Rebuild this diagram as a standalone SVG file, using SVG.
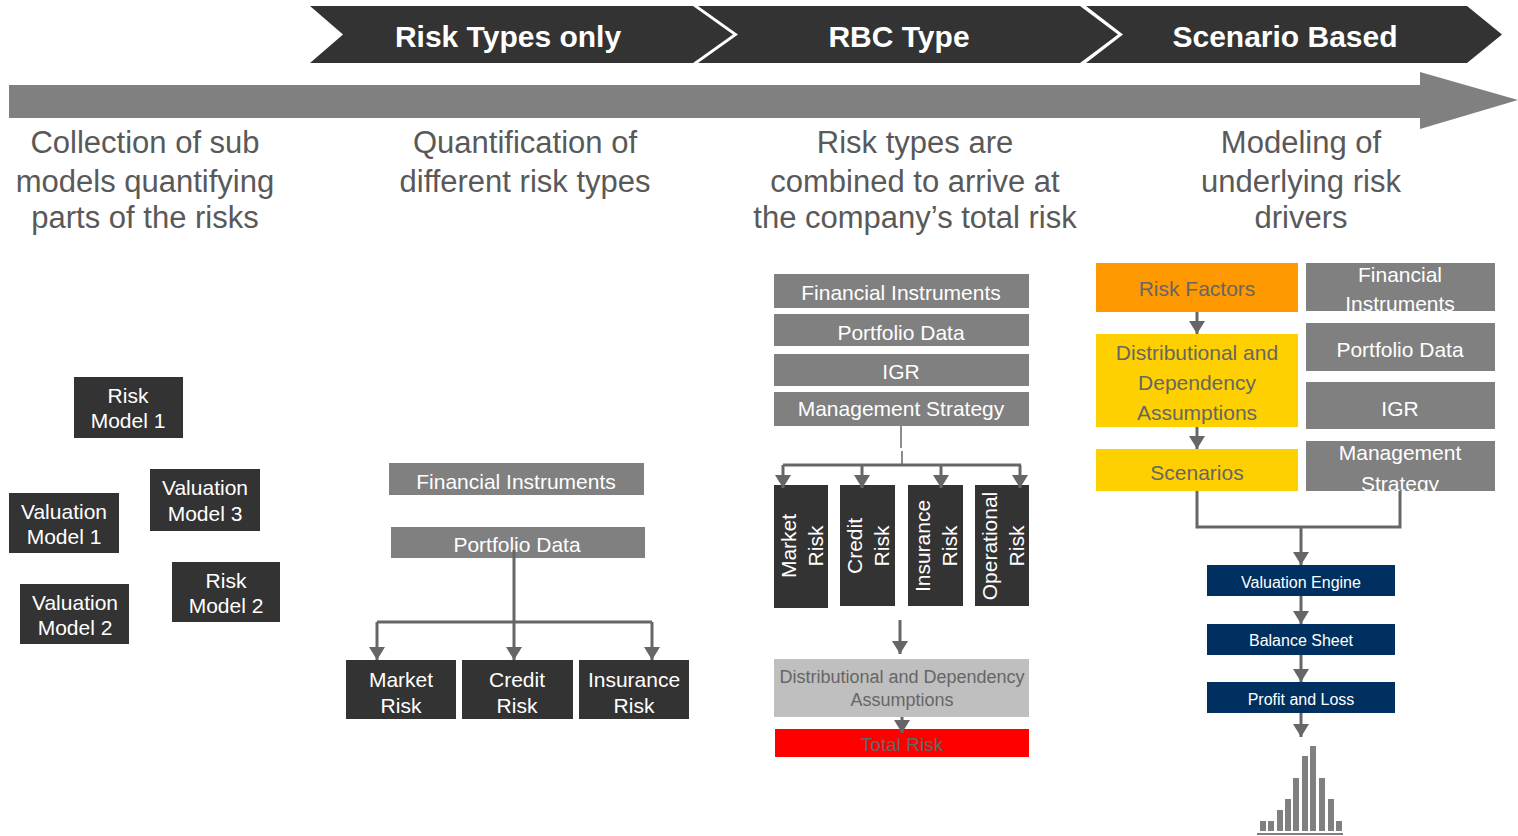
<svg xmlns="http://www.w3.org/2000/svg" width="1518" height="836" viewBox="0 0 1518 836">
<style>
text{font-family:"Liberation Sans",Arial,sans-serif;text-anchor:middle;dominant-baseline:central}
.hdr{font-size:30px;font-weight:bold;fill:#fff}
.col{font-size:31px;fill:#595959}
.dk{fill:#333333}
.gr{fill:#808080}
.wt{fill:#fff;font-size:21px}
.gt{fill:#666;font-size:21px}
.bt{fill:#fff;font-size:16px}
.ln{stroke:#666;stroke-width:3;fill:none}
.ar{stroke:#666;stroke-width:3;fill:none;marker-end:url(#ah)}
.bar{fill:#808080}
</style>
<defs>
<marker id="ah" markerUnits="userSpaceOnUse" viewBox="0 0 13 16" refX="13" refY="8" markerWidth="13" markerHeight="16" orient="auto">
<path d="M0,0 L13,8 L0,16 z" fill="#666"/>
</marker>
<clipPath id="c1"><rect x="1306" y="263" width="189" height="48"/></clipPath>
<clipPath id="c2"><rect x="1306" y="441" width="189" height="50"/></clipPath>
</defs>

<g id="timeline">
<polygon class="dk" points="310,6 693,6 733,34.5 693,63 310,63 343,34.5"/>
<polygon class="dk" points="698,6 1080,6 1118,34.5 1080,63 698,63 738,34.5"/>
<polygon class="dk" points="1086,6 1467,6 1502,34.5 1467,63 1086,63 1123,34.5"/>
<text class="hdr" x="508" y="36">Risk Types only</text>
<text class="hdr" x="899" y="36">RBC Type</text>
<text class="hdr" x="1285" y="36">Scenario Based</text>
<polygon class="gr" points="9,85 1420,85 1420,72 1518,100 1420,129 1420,118 9,118"/>
</g>

<g id="headings">
<text class="col" x="145" y="142">Collection of sub</text>
<text class="col" x="145" y="181">models quantifying</text>
<text class="col" x="145" y="217">parts of the risks</text>
<text class="col" x="525" y="142">Quantification of</text>
<text class="col" x="525" y="181">different risk types</text>
<text class="col" x="915" y="142">Risk types are</text>
<text class="col" x="915" y="181">combined to arrive at</text>
<text class="col" x="915" y="217">the company’s total risk</text>
<text class="col" x="1301" y="142">Modeling of</text>
<text class="col" x="1301" y="181">underlying risk</text>
<text class="col" x="1301" y="217">drivers</text>
</g>

<g id="risk-model-1"><rect class="dk" x="74" y="377" width="109" height="61"/><text class="wt" x="128" y="395">Risk</text><text class="wt" x="128" y="420">Model 1</text></g>
<g id="valuation-model-3"><rect class="dk" x="150" y="469" width="110" height="62"/><text class="wt" x="205" y="487">Valuation</text><text class="wt" x="205" y="513">Model 3</text></g>
<g id="valuation-model-1"><rect class="dk" x="9" y="493" width="110" height="60"/><text class="wt" x="64" y="511">Valuation</text><text class="wt" x="64" y="536">Model 1</text></g>
<g id="risk-model-2"><rect class="dk" x="172" y="562" width="108" height="60"/><text class="wt" x="226" y="580">Risk</text><text class="wt" x="226" y="605">Model 2</text></g>
<g id="valuation-model-2"><rect class="dk" x="20" y="584" width="109" height="60"/><text class="wt" x="75" y="602">Valuation</text><text class="wt" x="75" y="627">Model 2</text></g>

<g id="c2-financial-instruments"><rect class="gr" x="389" y="463" width="255" height="32"/><text class="wt" x="516" y="481">Financial Instruments</text></g>
<g id="c2-portfolio-data"><rect class="gr" x="391" y="527" width="254" height="31"/><text class="wt" x="517" y="544">Portfolio Data</text></g>
<g id="c2-market-risk"><rect class="dk" x="346" y="660" width="110" height="59"/><text class="wt" x="401" y="679">Market</text><text class="wt" x="401" y="705">Risk</text></g>
<g id="c2-credit-risk"><rect class="dk" x="462" y="660" width="111" height="59"/><text class="wt" x="517" y="679">Credit</text><text class="wt" x="517" y="705">Risk</text></g>
<g id="c2-insurance-risk"><rect class="dk" x="579" y="660" width="110" height="59"/><text class="wt" x="634" y="679">Insurance</text><text class="wt" x="634" y="705">Risk</text></g>

<g id="c3-financial-instruments"><rect class="gr" x="774" y="274" width="255" height="34"/><text class="wt" x="901" y="292">Financial Instruments</text></g>
<g id="c3-portfolio-data"><rect class="gr" x="774" y="314" width="255" height="32"/><text class="wt" x="901" y="332">Portfolio Data</text></g>
<g id="c3-igr"><rect class="gr" x="774" y="354" width="255" height="32"/><text class="wt" x="901" y="371">IGR</text></g>
<g id="c3-management-strategy"><rect class="gr" x="774" y="392" width="255" height="34"/><text class="wt" x="901" y="408">Management Strategy</text></g>
<g id="c3-market-risk"><rect class="dk" x="774" y="485" width="54" height="123"/><g transform="translate(801,546) rotate(-90)"><text class="wt" x="0" y="-13">Market</text><text class="wt" x="0" y="14">Risk</text></g></g>
<g id="c3-credit-risk"><rect class="dk" x="840" y="485" width="55" height="121"/><g transform="translate(867,546) rotate(-90)"><text class="wt" x="0" y="-13">Credit</text><text class="wt" x="0" y="14">Risk</text></g></g>
<g id="c3-insurance-risk"><rect class="dk" x="908" y="485" width="55" height="121"/><g transform="translate(935,546) rotate(-90)"><text class="wt" x="0" y="-13">Insurance</text><text class="wt" x="0" y="14">Risk</text></g></g>
<g id="c3-operational-risk"><rect class="dk" x="975" y="485" width="54" height="121"/><g transform="translate(1002,546) rotate(-90)"><text class="wt" x="0" y="-13">Operational</text><text class="wt" x="0" y="14">Risk</text></g></g>
<g id="c3-distributional"><rect x="774" y="659" width="255" height="58" fill="#bfbfbf"/><text x="902" y="677" fill="#666" font-size="18">Distributional and Dependency</text><text x="902" y="700" fill="#666" font-size="18">Assumptions</text></g>
<g id="c3-total-risk"><rect x="775" y="729" width="254" height="28" fill="#ff0000"/><text x="902" y="744" fill="#666" font-size="19">Total Risk</text></g>

<g id="c4-risk-factors"><rect x="1096" y="263" width="202" height="49" fill="#ff9900"/><text class="gt" x="1197" y="288">Risk Factors</text></g>
<g id="c4-distributional"><rect x="1096" y="334" width="202" height="93" fill="#ffd000"/><text class="gt" x="1197" y="352">Distributional and</text><text class="gt" x="1197" y="382">Dependency</text><text class="gt" x="1197" y="412">Assumptions</text></g>
<g id="c4-scenarios"><rect x="1096" y="449" width="202" height="42" fill="#ffd000"/><text class="gt" x="1197" y="472">Scenarios</text></g>
<g id="c4-financial-instruments"><rect class="gr" x="1306" y="263" width="189" height="48"/><g clip-path="url(#c1)"><text class="wt" x="1400" y="274">Financial</text><text class="wt" x="1400" y="303">Instruments</text></g></g>
<g id="c4-portfolio-data"><rect class="gr" x="1306" y="323" width="189" height="48"/><text class="wt" x="1400" y="349">Portfolio Data</text></g>
<g id="c4-igr"><rect class="gr" x="1306" y="382" width="189" height="47"/><text class="wt" x="1400" y="408">IGR</text></g>
<g id="c4-management-strategy"><rect class="gr" x="1306" y="441" width="189" height="50"/><g clip-path="url(#c2)"><text class="wt" x="1400" y="452">Management</text><text class="wt" x="1400" y="483">Strategy</text></g></g>
<g id="c4-valuation-engine"><rect x="1207" y="565" width="188" height="31" fill="#00305f"/><text class="bt" x="1301" y="582">Valuation Engine</text></g>
<g id="c4-balance-sheet"><rect x="1207" y="624" width="188" height="31" fill="#00305f"/><text class="bt" x="1301" y="640">Balance Sheet</text></g>
<g id="c4-profit-loss"><rect x="1207" y="682" width="188" height="31" fill="#00305f"/><text class="bt" x="1301" y="699">Profit and Loss</text></g>
<g id="c4-histogram">
<rect class="bar" x="1260" y="821" width="6" height="10"/>
<rect class="bar" x="1268" y="821" width="6" height="10"/>
<rect class="bar" x="1277" y="810" width="6" height="21"/>
<rect class="bar" x="1285" y="799" width="6" height="32"/>
<rect class="bar" x="1293" y="778" width="6" height="53"/>
<rect class="bar" x="1302" y="756" width="6" height="75"/>
<rect class="bar" x="1310" y="746" width="6" height="85"/>
<rect class="bar" x="1319" y="778" width="6" height="53"/>
<rect class="bar" x="1328" y="799" width="6" height="32"/>
<rect class="bar" x="1336" y="821" width="6" height="10"/>
<line x1="1257" y1="834" x2="1343" y2="834" stroke="#808080" stroke-width="2"/>
</g>

<g id="connectors">
<line class="ln" x1="514" y1="550" x2="514" y2="622"/>
<polyline class="ar" points="377,622 377,660"/>
<line class="ln" x1="377" y1="622" x2="652" y2="622"/>
<line class="ar" x1="514" y1="622" x2="514" y2="660"/>
<polyline class="ar" points="652,622 652,660"/>

<line x1="901" y1="426" x2="901" y2="448" stroke="#666" stroke-width="1.5"/>
<line x1="902" y1="451" x2="902" y2="465" stroke="#666" stroke-width="1.5"/>
<line class="ln" x1="783" y1="465" x2="1021" y2="465"/>
<line class="ar" x1="783" y1="465" x2="783" y2="488"/>
<line class="ar" x1="862" y1="465" x2="862" y2="488"/>
<line class="ar" x1="941" y1="465" x2="941" y2="488"/>
<line class="ar" x1="1020" y1="465" x2="1020" y2="488"/>
<line class="ar" x1="900" y1="620" x2="900" y2="654"/>
<line class="ar" x1="902" y1="717" x2="902" y2="733"/>

<line class="ar" x1="1197" y1="312" x2="1197" y2="334"/>
<line class="ar" x1="1197" y1="427" x2="1197" y2="449"/>
<polyline class="ln" points="1197,491 1197,527 1400,527 1400,491"/>
<line class="ar" x1="1301" y1="527" x2="1301" y2="565"/>
<line class="ar" x1="1301" y1="596" x2="1301" y2="624"/>
<line class="ar" x1="1301" y1="655" x2="1301" y2="682"/>
<line class="ar" x1="1301" y1="713" x2="1301" y2="737"/>
</g>
</svg>
